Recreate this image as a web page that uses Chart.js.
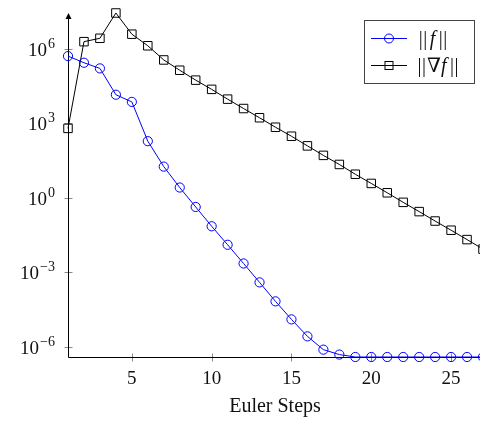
<!DOCTYPE html>
<html>
<head>
<meta charset="utf-8">
<script src="https://cdn.jsdelivr.net/npm/chart.js@4.4.0/dist/chart.umd.min.js"></script>
<style>
  html, body { margin: 0; padding: 0; background: #fff; overflow: hidden; }
  #wrap { width: 480px; height: 421px; overflow: hidden; }
</style>
</head>
<body>
<div id="wrap"><canvas id="chart" width="490" height="421"></canvas></div>
<script>
// Euler step index
const steps = [1, 2, 3, 4, 5, 6, 7, 8, 9, 10, 11, 12, 13, 14, 15, 16, 17, 18, 19, 20, 21, 22, 23, 24, 25, 26, 27];

// ||f|| per step
const fNorm = [5.0e5, 2.7e5, 1.6e5, 1.4e4, 7.2e3, 1.9e2, 18, 2.6, 0.43, 0.072, 0.013, 2.3e-3, 4.0e-4,
    6.9e-5, 1.3e-5, 2.7e-6, 7.9e-7, 5.0e-7, 4.0e-7, 4.0e-7, 4.0e-7, 4.0e-7, 4.0e-7, 4.0e-7, 4.0e-7, 4.0e-7, 4.0e-7];

// ||grad f|| per step
const gradNorm = [6.2e2, 1.9e6, 2.6e6, 2.7e7, 3.8e6, 1.3e6, 3.5e5, 1.35e5, 5.4e4, 2.3e4, 9.3e3, 3.9e3, 1.66e3,
    6.9e2, 3.0e2, 1.23e2, 51, 22, 8.9, 3.8, 1.6, 0.66, 0.28, 0.117, 0.050, 0.021, 0.0087];

// axis ticks
const xTicks = [5, 10, 15, 20, 25];
const yTickExp = [-6, -3, 0, 3, 6];

const SERIF = '"Liberation Serif", "DejaVu Serif", serif';

// draws a run of [text, font, dy, extraAdvance] pieces starting at x
function drawRuns(ctx, runs, x, y) {
    runs.forEach(r => {
        ctx.font = r[1];
        ctx.fillText(r[0], x, y + (r[2] || 0));
        x += ctx.measureText(r[0]).width + (r[3] || 0);
    });
}

function runsWidth(ctx, runs) {
    let w = 0;
    runs.forEach(r => { ctx.font = r[1]; w += ctx.measureText(r[0]).width + (r[3] || 0); });
    return w;
}

// pgfplots style axes, ticks, labels and legend
const axesPlugin = {
    id: 'axesPlugin',
    beforeDatasetsDraw(chart) {
        const ctx = chart.ctx;
        const xs = chart.scales.x, ys = chart.scales.y;
        const area = chart.chartArea;
        const x0 = Math.round(area.left) + 0.5;
        const yb = Math.round(area.bottom) + 0.5;
        ctx.save();

        // ticks
        ctx.strokeStyle = '#8a8a8a';
        ctx.lineWidth = 1;
        xTicks.forEach(v => {
            const px = Math.round(xs.getPixelForValue(v)) + 0.5;
            ctx.beginPath(); ctx.moveTo(px, yb - 4); ctx.lineTo(px, yb + 4); ctx.stroke();
        });
        yTickExp.forEach(e => {
            const py = Math.round(ys.getPixelForValue(Math.pow(10, e))) + 0.5;
            ctx.beginPath(); ctx.moveTo(x0 - 4, py); ctx.lineTo(x0 + 4, py); ctx.stroke();
        });

        // axis lines
        ctx.strokeStyle = '#000';
        ctx.fillStyle = '#000';
        ctx.beginPath();
        ctx.moveTo(x0, yb); ctx.lineTo(x0, area.top + 3);
        ctx.moveTo(x0, yb); ctx.lineTo(area.right + 4, yb);
        ctx.stroke();
        // arrow heads
        ctx.beginPath();
        ctx.moveTo(x0, area.top); ctx.lineTo(x0 - 3, area.top + 6); ctx.lineTo(x0 + 3, area.top + 6);
        ctx.closePath(); ctx.fill();
        ctx.beginPath();
        ctx.moveTo(area.right + 6, yb); ctx.lineTo(area.right, yb - 3); ctx.lineTo(area.right, yb + 3);
        ctx.closePath(); ctx.fill();

        // x tick labels
        ctx.fillStyle = '#111';
        ctx.textAlign = 'center';
        ctx.textBaseline = 'alphabetic';
        ctx.font = '19px ' + SERIF;
        xTicks.forEach(v => {
            ctx.fillText(String(v), xs.getPixelForValue(v), yb + 26);
        });
        ctx.font = '20px ' + SERIF;
        ctx.fillText('Euler Steps', 275, 412);

        // y tick labels 10^e
        ctx.textAlign = 'left';
        yTickExp.forEach(e => {
            const py = ys.getPixelForValue(Math.pow(10, e));
            const exp = e < 0 ? '\u2212' + Math.abs(e) : String(e);
            const runs = [['10', '19px ' + SERIF, 0, 1], [exp, '14px ' + SERIF, -8]];
            const w = runsWidth(ctx, runs);
            drawRuns(ctx, runs, 55 - w, py + 7);
        });
        ctx.restore();
    },
    afterDraw(chart) {
        const ctx = chart.ctx;
        ctx.save();
        // legend box
        ctx.strokeStyle = '#444';
        ctx.lineWidth = 1;
        ctx.fillStyle = '#fff';
        ctx.fillRect(364.5, 20.5, 110, 63);
        ctx.strokeRect(364.5, 20.5, 110, 63);

        // entry 1: blue circle
        ctx.strokeStyle = '#0000ff';
        ctx.beginPath(); ctx.moveTo(371, 38.5); ctx.lineTo(407, 38.5); ctx.stroke();
        ctx.beginPath(); ctx.arc(389, 38.5, 4.5, 0, Math.PI * 2); ctx.stroke();

        // entry 2: black square
        ctx.strokeStyle = '#000';
        ctx.beginPath(); ctx.moveTo(371, 65.5); ctx.lineTo(407, 65.5); ctx.stroke();
        ctx.strokeRect(385, 61.5, 8, 8);

        ctx.fillStyle = '#111';
        ctx.textBaseline = 'alphabetic';
        const up = '20px ' + SERIF, it = 'italic 20px ' + SERIF;
        const r1 = [['|', up, 0, 0.5], ['|', up, 0, 2.5], ['f', it, 0, 3.5], ['|', up, 0, 0.5], ['|', up]];
        const r2 = [['|', up, 0, 0.5], ['|', up, 0, 1], ['\u2207', up, 0, 0], ['f', it, 0, 3.5], ['|', up, 0, 0.5], ['|', up]];
        drawRuns(ctx, r1, 433 - runsWidth(ctx, r1) / 2, 45);
        drawRuns(ctx, r2, 438 - runsWidth(ctx, r2) / 2, 72);
        ctx.restore();
    }
};

function initChart() {
    const ctx = document.getElementById('chart');
    new Chart(ctx, {
        type: 'line',
        data: {
            labels: steps,
            datasets: [
                {
                    label: '||f||',
                    data: steps.map((s, i) => ({ x: s, y: fNorm[i] })),
                    borderColor: '#0000ff',
                    borderWidth: 1,
                    pointStyle: 'circle',
                    pointRadius: 4.6,
                    pointBorderWidth: 1,
                    pointBorderColor: '#0000ff',
                    pointBackgroundColor: 'rgba(0,0,0,0)',
                    tension: 0,
                    clip: false
                },
                {
                    label: '||grad f||',
                    data: steps.map((s, i) => ({ x: s, y: gradNorm[i] })),
                    borderColor: '#000',
                    borderWidth: 1,
                    pointStyle: 'rect',
                    pointRadius: 6,
                    pointBorderWidth: 1,
                    pointBorderColor: '#000',
                    pointBackgroundColor: 'rgba(0,0,0,0)',
                    tension: 0,
                    clip: false
                }
            ]
        },
        options: {
            responsive: false,
            animation: false,
            events: [],
            layout: { padding: { left: 68, top: 13, right: 6, bottom: 64 } },
            plugins: { legend: { display: false }, tooltip: { enabled: false } },
            scales: {
                x: { type: 'linear', min: 1, max: 27, display: false },
                y: { type: 'logarithmic', min: 4.0e-7, max: 2.7e7, display: false }
            }
        },
        plugins: [axesPlugin]
    });
}

document.addEventListener('DOMContentLoaded', initChart);
</script>
</body>
</html>
